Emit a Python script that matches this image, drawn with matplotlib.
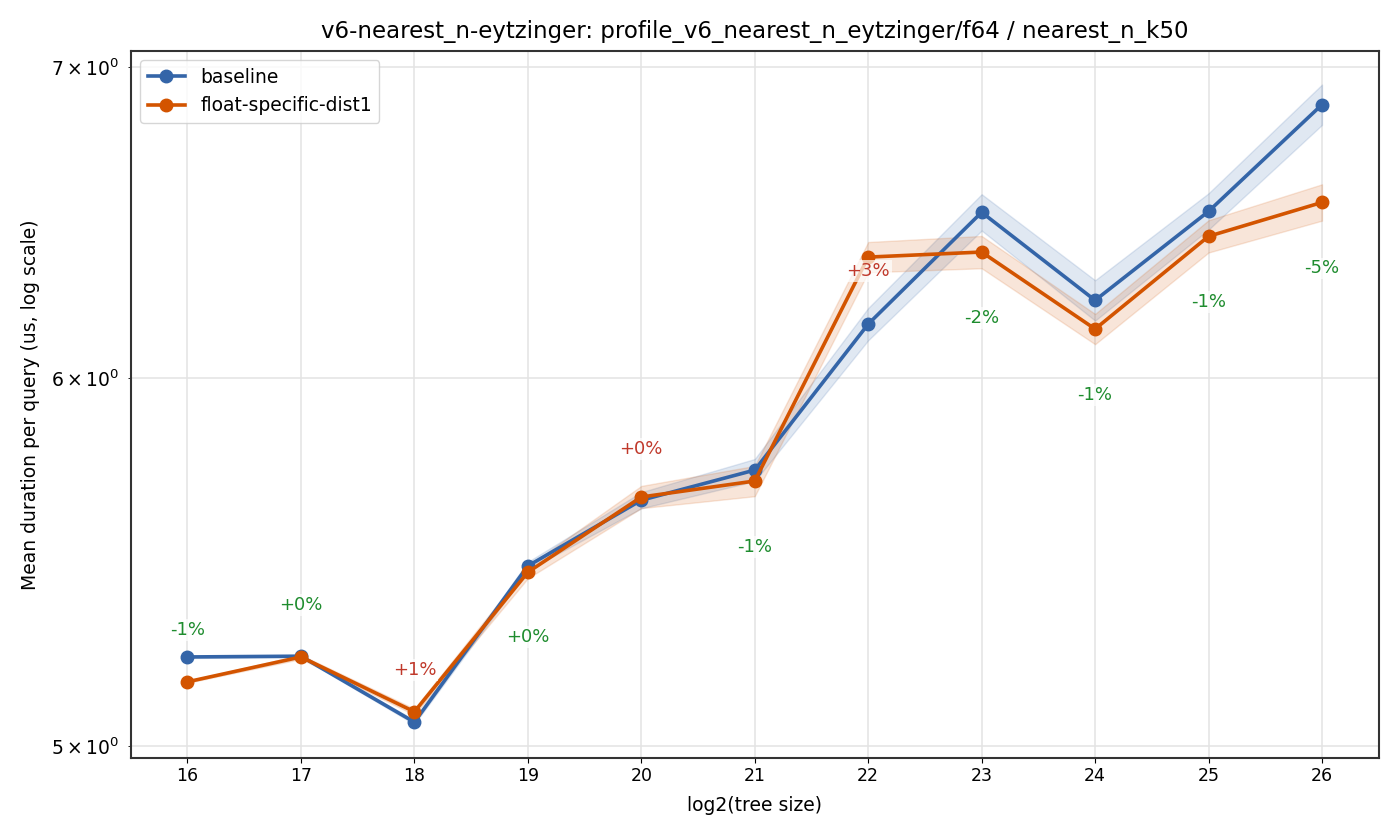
import numpy as np
import matplotlib
matplotlib.use("Agg")
import matplotlib.pyplot as plt

# log2 of tree size
sizes = [16, 17, 18, 19, 20, 21, 22, 23, 24, 25, 26]

# mean duration per query (us)
baseline = [5.226, 5.228, 5.060, 5.467, 5.648, 5.733, 6.163, 6.514, 6.236, 6.517, 6.871]
float_dist1 = [5.162, 5.226, 5.086, 5.450, 5.657, 5.702, 6.371, 6.387, 6.148, 6.437, 6.546]

# half-width of the shaded band, in percent of the mean
baseline_err = [0.05, 0.05, 0.1, 0.2, 0.4, 0.55, 0.8, 0.9, 1.0, 0.9, 1.0]
float_err = [0.05, 0.1, 0.15, 0.3, 0.55, 0.75, 0.75, 0.8, 0.75, 0.8, 0.9]

# change labels (float-specific-dist1 vs baseline)
change_labels = ["-1%", "+0%", "+1%", "+0%", "+0%", "-1%", "+3%", "-2%", "-1%", "-1%", "-5%"]
change_worse = [False, False, True, False, True, False, True, False, False, False, False]

BLUE = "#3465a8"
ORANGE = "#d35400"
GREEN = "#1e8c2e"
RED = "#c0392b"

fig = plt.figure(figsize=(14, 8.4), dpi=100)
ax = fig.add_axes([0.0934, 0.0982, 0.8914, 0.8411])

x = np.array(sizes)
series = [
    ("baseline", baseline, baseline_err, BLUE),
    ("float-specific-dist1", float_dist1, float_err, ORANGE),
]
for name, vals, err, color in series:
    v = np.array(vals)
    e = np.array(err) / 100.0
    ax.fill_between(x, v * (1 - e), v * (1 + e), color=color, alpha=0.15, linewidth=1)
    ax.plot(x, v, "-o", color=color, lw=2.6, markersize=9, label=name)

ax.set_yscale("log")
ax.set_xlim(15.5, 26.5)
ax.set_ylim(4.972, 7.056)
ax.set_xticks(sizes)

# label offsets in pixels from the float-specific point (negative = above)
offsets = [-52, -52, -42, 65, -48, 66, 14, 66, 66, 66, 66]
for xi, yi, lab, worse, off in zip(sizes, float_dist1, change_labels, change_worse, offsets):
    ax.annotate(lab, (xi, yi), xytext=(0, -off), textcoords="offset pixels",
                ha="center", va="center", fontsize=13,
                color=RED if worse else GREEN,
                bbox=dict(boxstyle="square,pad=0.1", fc="white", ec="none", alpha=0.7))

ax.grid(True, which="both", color="#e3e3e3", linewidth=1.1)
ax.set_axisbelow(True)
for s in ax.spines.values():
    s.set_color("#333333")
    s.set_linewidth(1.5)

ax.set_xlabel("log2(tree size)", fontsize=13.5, labelpad=8)
ax.set_ylabel("Mean duration per query (us, log scale)", fontsize=13.5, labelpad=8)
ax.set_title("v6-nearest_n-eytzinger: profile_v6_nearest_n_eytzinger/f64 / nearest_n_k50",
             fontsize=16.5, pad=9)
ax.tick_params(axis="x", which="both", labelsize=12.5)
ax.tick_params(axis="y", which="both", labelsize=13.5, pad=6)
ax.legend(loc="upper left", fontsize=13.5)

fig.savefig("out.png", dpi=100)
